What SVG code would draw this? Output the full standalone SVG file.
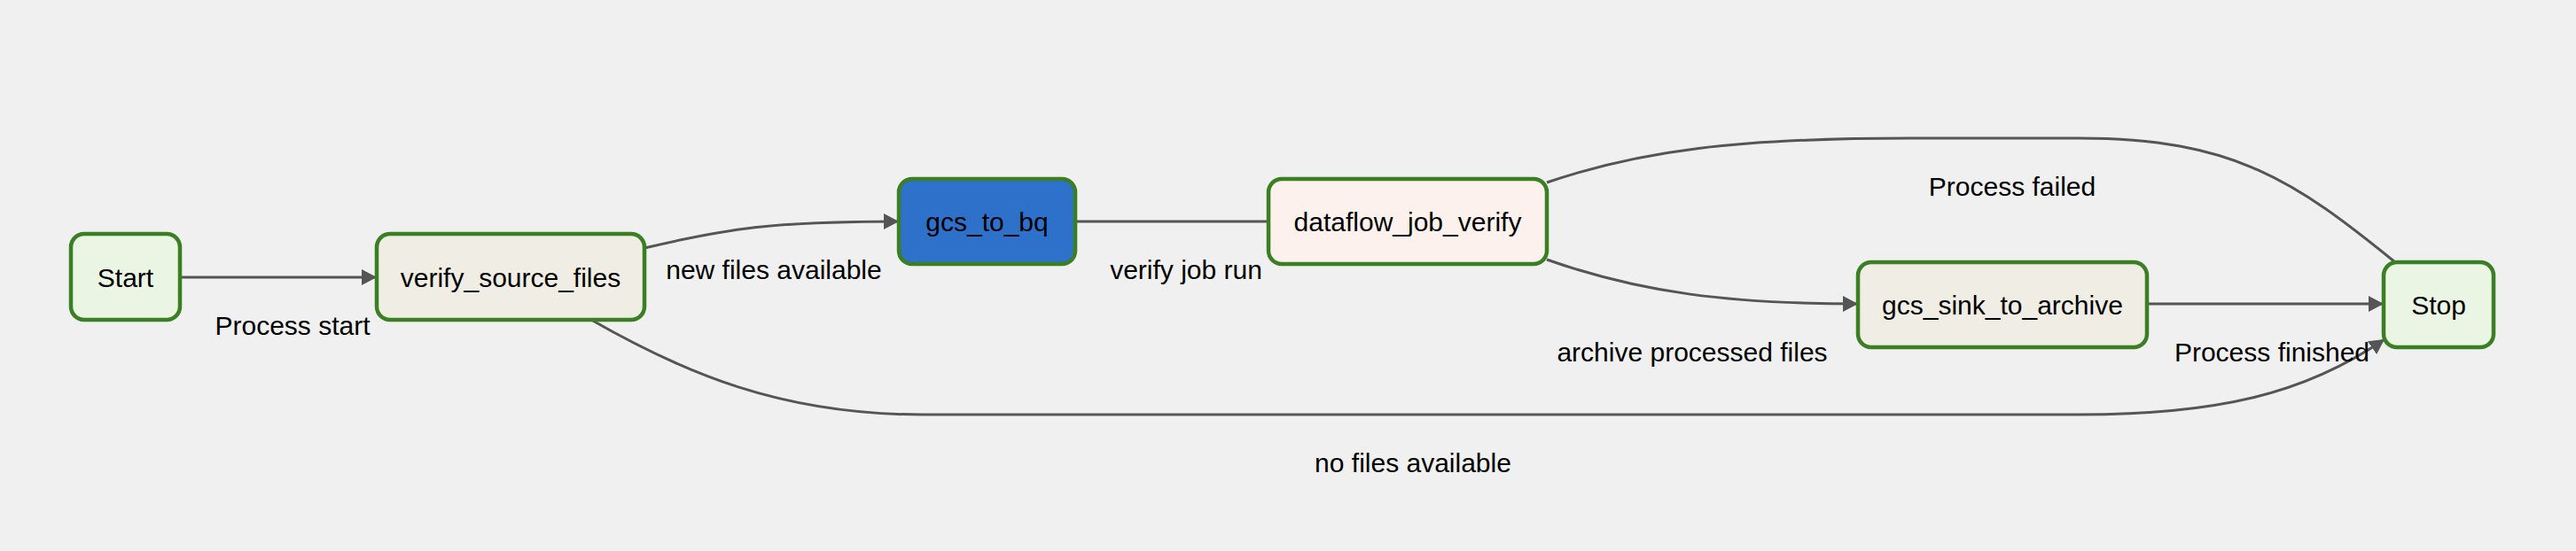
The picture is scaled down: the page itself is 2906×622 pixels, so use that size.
<svg xmlns="http://www.w3.org/2000/svg" width="2906" height="622" viewBox="0 0 2906 622">
<style>
.node rect{stroke:#3a7f23;stroke-width:4.5}
.start rect{fill:#eaf5e4}
.task rect{fill:#f0ede4}
.run rect{fill:#2e71ca}
.verify rect{fill:#fcf1ec}
.node text{font-family:"Liberation Sans",Arial,sans-serif;font-size:30px;fill:#000;text-anchor:middle}
.edges path{fill:none;stroke:#555;stroke-width:3}
.lbl{font-family:"Liberation Sans",Arial,sans-serif;font-size:30px;fill:#000;text-anchor:middle}
</style>
<defs>
<marker id="arr" markerUnits="userSpaceOnUse" markerWidth="20" markerHeight="20" refX="17" refY="9" orient="auto">
<path d="M0,0 L17,9 L0,18 Z" fill="#555"/>
</marker>
</defs>
<rect width="2906" height="622" fill="#f0f0f0"/>
<g id="connectors" class="edges">
<path d="M203,313 L425,313" marker-end="url(#arr)"/>
<path d="M727,280 C820,258 870,250 1014,250" marker-end="url(#arr)"/>
<path d="M1213,250 L1431,250"/>
<path d="M1745,206 C1850,170 1960,156 2155,156 L2346,156 C2520,156 2590,205 2702,296"/>
<path d="M1745,293 C1850,330 1950,343 2096,343" marker-end="url(#arr)"/>
<path d="M2422,343 L2689,343" marker-end="url(#arr)"/>
<path d="M667,361 C770,420 880,468 1040,468 L2346,468 C2500,468 2600,445 2690,383" marker-end="url(#arr)"/>
</g>
<g id="edge-labels">
<text class="lbl" x="330" y="378">Process start</text>
<text class="lbl" x="873" y="315">new files available</text>
<text class="lbl" x="1338" y="315">verify job run</text>
<text class="lbl" x="2270" y="221">Process failed</text>
<text class="lbl" x="1909" y="408">archive processed files</text>
<text class="lbl" x="2563" y="408">Process finished</text>
<text class="lbl" x="1594" y="533">no files available</text>
</g>
<g id="node-start" class="node start">
<rect x="80" y="264" width="123" height="97" rx="15"/>
<text x="141.5" y="323.5">Start</text>
</g>
<g id="node-verify_source_files" class="node task">
<rect x="425" y="264" width="302" height="97" rx="15"/>
<text x="576" y="323.5">verify_source_files</text>
</g>
<g id="node-gcs_to_bq" class="node run">
<rect x="1014" y="202" width="199" height="96" rx="15"/>
<text x="1113.5" y="261">gcs_to_bq</text>
</g>
<g id="node-dataflow_job_verify" class="node verify">
<rect x="1431" y="202" width="314" height="96" rx="15"/>
<text x="1588" y="261">dataflow_job_verify</text>
</g>
<g id="node-gcs_sink_to_archive" class="node task">
<rect x="2096" y="296" width="326" height="96" rx="15"/>
<text x="2259" y="355">gcs_sink_to_archive</text>
</g>
<g id="node-stop" class="node start">
<rect x="2689" y="296" width="124" height="96" rx="15"/>
<text x="2751" y="355">Stop</text>
</g>
</svg>
